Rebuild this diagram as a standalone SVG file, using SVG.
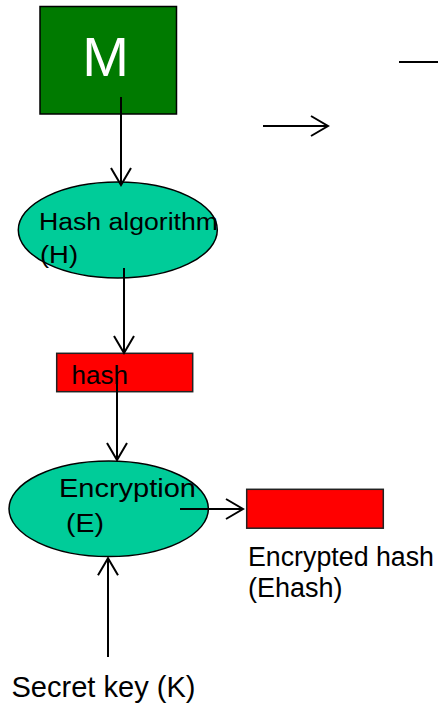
<svg xmlns="http://www.w3.org/2000/svg" width="438" height="712" viewBox="0 0 438 712">
  <style>
    .txt { font-family: "Liberation Sans", Arial, sans-serif; fill: #000; }
    .edge { stroke: #000; stroke-width: 2; fill: none; }
    .oval { fill: #00CC99; stroke: #000; stroke-width: 1.5; }
    .red { fill: #FF0000; stroke: #222; stroke-width: 1.5; }
  </style>
  <defs>
    <marker id="chev" viewBox="0 0 17 20" refX="17" refY="10" markerWidth="17" markerHeight="20" markerUnits="userSpaceOnUse" orient="auto" overflow="visible">
      <path d="M0,0 L17,10 L0,20" fill="none" stroke="#000" stroke-width="2"/>
    </marker>
  </defs>
  <rect width="438" height="712" fill="#fff"/>

  <!-- message block -->
  <g id="message">
    <rect x="40" y="6.5" width="136.5" height="107.5" fill="#007A00" stroke="#000" stroke-width="1.5"/>
    <text class="txt" x="105.5" y="76" font-size="56" text-anchor="middle" style="fill:#fff">M</text>
  </g>

  <!-- hash function -->
  <g id="hash-algorithm">
    <ellipse class="oval" cx="117.8" cy="230" rx="99.5" ry="48"/>
    <text class="txt" x="39" y="229.5" font-size="23.5" textLength="179" lengthAdjust="spacingAndGlyphs">Hash algorithm</text>
    <text class="txt" x="40" y="263" font-size="23.5" textLength="38" lengthAdjust="spacingAndGlyphs">(H)</text>
  </g>

  <!-- digest -->
  <g id="hash">
    <rect class="red" x="56.7" y="353.3" width="136" height="38.4"/>
    <text class="txt" x="71.5" y="384.3" font-size="26">hash</text>
  </g>

  <!-- encryption step -->
  <g id="encryption">
    <ellipse class="oval" cx="108.7" cy="508.8" rx="99.7" ry="47.8"/>
    <text class="txt" x="59" y="496.7" font-size="26" textLength="137" lengthAdjust="spacingAndGlyphs">Encryption</text>
    <text class="txt" x="66" y="531.7" font-size="26" textLength="38" lengthAdjust="spacingAndGlyphs">(E)</text>
  </g>

  <!-- encrypted digest -->
  <g id="encrypted-hash">
    <rect class="red" x="246.7" y="489.3" width="136.6" height="38.9"/>
    <text class="txt" x="248" y="566" font-size="27" textLength="186" lengthAdjust="spacingAndGlyphs">Encrypted hash</text>
    <text class="txt" x="248" y="596.7" font-size="27">(Ehash)</text>
  </g>

  <!-- key label -->
  <g id="secret-key">
    <text class="txt" x="11.5" y="696.7" font-size="29" textLength="184" lengthAdjust="spacingAndGlyphs">Secret key (K)</text>
  </g>

  <!-- connectors -->
  <g id="connectors">
    <line class="edge" x1="121" y1="97" x2="121" y2="185" marker-end="url(#chev)"/>
    <line class="edge" x1="263" y1="126" x2="328" y2="126" marker-end="url(#chev)"/>
    <line class="edge" x1="399" y1="62" x2="438" y2="62"/>
    <line class="edge" x1="124" y1="268" x2="124" y2="353" marker-end="url(#chev)"/>
    <line class="edge" x1="117" y1="373" x2="117" y2="460" marker-end="url(#chev)"/>
    <line class="edge" x1="180" y1="509" x2="243" y2="509" marker-end="url(#chev)"/>
    <line class="edge" x1="108" y1="657" x2="108" y2="558.3" marker-end="url(#chev)"/>
  </g>
</svg>
